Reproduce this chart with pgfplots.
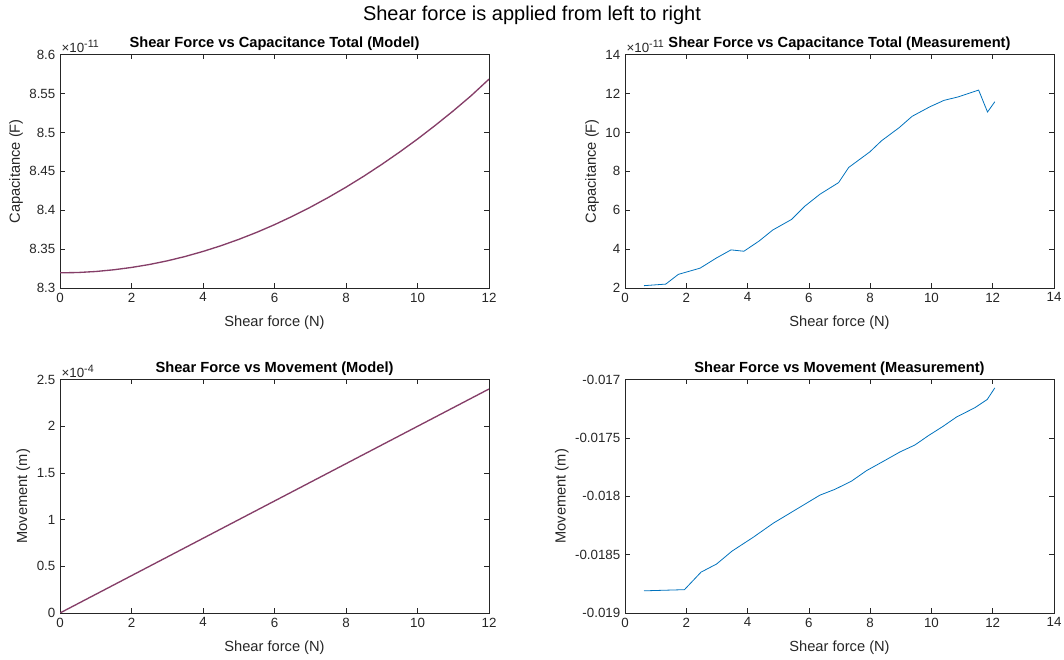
\documentclass[border=0pt]{standalone}
\usepackage{pgfplots}
\pgfplotsset{compat=1.18}
\usepackage{fontspec}
\setmainfont{Liberation Sans}
\definecolor{axgray}{RGB}{38,38,38}
\definecolor{mblue}{RGB}{0,114,189}
\definecolor{modelc}{RGB}{133,62,104}
\newcommand{\sexp}[1]{×10\raisebox{0.75ex}{\fontsize{8}{9}\selectfont #1}}
\pgfplotsset{
  mystyle/.style={
    scale only axis, width=321.75pt, height=175pt,
    clip mode=individual,
    axis line style={axgray, line width=0.5pt},
    every tick/.style={axgray, line width=0.5pt},
    major tick length=3.5pt,
    tick align=inside,
    xtick pos=both, ytick pos=both,
    tick label style={font=\fontsize{10}{12}\selectfont, text=axgray},
    /pgf/number format/assume math mode=true,
    scaled y ticks=false, scaled x ticks=false,
    label style={font=\fontsize{11}{13}\selectfont, text=axgray},
    title style={font=\fontsize{11}{13}\selectfont\bfseries, text=black, yshift=-6.5pt},
    xlabel={Shear force (N)},
    xlabel style={yshift=-3.5pt},
    ylabel style={yshift=-2pt},
  }
}
\begin{document}
\begin{tikzpicture}[x=1pt,y=1pt]
\useasboundingbox (0,0) rectangle (798,495);
\node[font=\fontsize{15}{17}\selectfont, text=black] at (399,483.5) {Shear force is applied from left to right};

% Top-left
\begin{axis}[mystyle, at={(45pt,279pt)}, anchor=south west,
  xmin=0, xmax=12, ymin=8.3, ymax=8.6,
  xtick={0,2,4,6,8,10,12},
  ytick={8.3,8.35,8.4,8.45,8.5,8.55,8.6},
  yticklabels={8.3,8.35,8.4,8.45,8.5,8.55,8.6},
  ylabel={Capacitance (F)},
  title={Shear Force vs Capacitance Total (Model)}]
\addplot[modelc, line width=1pt] coordinates {
(0,8.3195) (0.5,8.3199) (1,8.3212) (1.5,8.3234) (2,8.3264) (2.5,8.3302) (3,8.3349)
(3.5,8.3405) (4,8.3470) (4.5,8.3543) (5,8.3625) (5.5,8.3715) (6,8.3814)
(6.5,8.3922) (7,8.4038) (7.5,8.4163) (8,8.4296) (8.5,8.4438) (9,8.4589)
(9.5,8.4748) (10,8.4915) (10.5,8.5092) (11,8.5277) (11.5,8.5472) (12,8.5685)};
\node[anchor=south west, font=\fontsize{10}{12}\selectfont, text=axgray, inner sep=1pt] at (rel axis cs:0,1) {\sexp{-11}};
\end{axis}

% Top-right
\begin{axis}[mystyle, at={(468.75pt,279pt)}, anchor=south west,
  xmin=0, xmax=14, ymin=2, ymax=14,
  xtick={0,2,4,6,8,10,12,14},
  ytick={2,4,6,8,10,12,14},
  ylabel={Capacitance (F)},
  title={Shear Force vs Capacitance Total (Measurement)}]
\addplot[mblue, line width=0.6pt] coordinates {
(0.62,2.12) (1.33,2.20) (1.74,2.70) (2.45,3.02) (2.99,3.55) (3.46,3.96)
(3.88,3.89) (4.38,4.42) (4.82,4.98) (5.44,5.53) (5.87,6.21) (6.36,6.82)
(6.97,7.42) (7.30,8.20) (7.99,9.00) (8.37,9.57) (8.95,10.25) (9.37,10.83)
(9.95,11.32) (10.41,11.65) (10.88,11.83) (11.54,12.18) (11.83,11.05) (12.07,11.58)};
\node[anchor=south west, font=\fontsize{10}{12}\selectfont, text=axgray, inner sep=1pt] at (rel axis cs:0,1) {\sexp{-11}};
\end{axis}

% Bottom-left
\begin{axis}[mystyle, at={(45pt,35.25pt)}, anchor=south west,
  xmin=0, xmax=12, ymin=0, ymax=2.5,
  xtick={0,2,4,6,8,10,12},
  ytick={0,0.5,1,1.5,2,2.5},
  yticklabels={0,0.5,1,1.5,2,2.5},
  ylabel={Movement (m)},
  title={Shear Force vs Movement (Model)}]
\addplot[modelc, line width=1pt] coordinates {
(0,0) (1,0.2) (2,0.4) (3,0.6) (4,0.8) (5,1.0) (6,1.2) (7,1.4) (8,1.6)
(9,1.8) (10,2.0) (11,2.2) (12,2.4)};
\node[anchor=south west, font=\fontsize{10}{12}\selectfont, text=axgray, inner sep=1pt] at (rel axis cs:0,1) {\sexp{-4}};
\end{axis}

% Bottom-right
\begin{axis}[mystyle, at={(468.75pt,35.25pt)}, anchor=south west,
  xmin=0, xmax=14, ymin=-0.019, ymax=-0.017,
  xtick={0,2,4,6,8,10,12,14},
  ytick={-0.019,-0.0185,-0.018,-0.0175,-0.017},
  yticklabels={-0.019,-0.0185,-0.018,-0.0175,-0.017},
  ylabel={Movement (m)},
  title={Shear Force vs Movement (Measurement)}]
\addplot[mblue, line width=0.6pt] coordinates {
(0.62,-0.01881) (1.94,-0.01880) (2.48,-0.01865) (2.99,-0.01858) (3.49,-0.01847)
(4.19,-0.01835) (4.84,-0.01823) (5.60,-0.01811) (6.36,-0.01799) (6.85,-0.01794)
(7.39,-0.01787) (7.88,-0.01778) (8.43,-0.01770) (8.97,-0.01762) (9.46,-0.01756)
(9.90,-0.01748) (10.38,-0.01740) (10.82,-0.01732) (11.42,-0.01724) (11.82,-0.01717)
(12.07,-0.01707)};
\end{axis}
\end{tikzpicture}
\end{document}
